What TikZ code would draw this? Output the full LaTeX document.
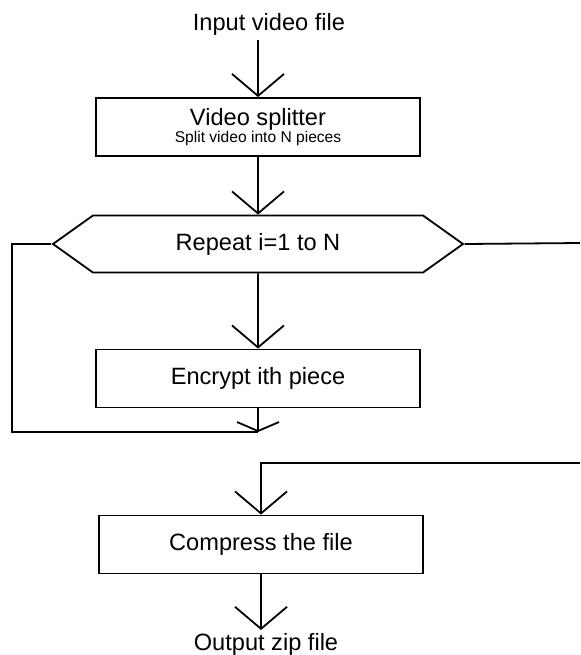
\documentclass[tikz,border=0pt]{standalone}
\usepackage{fontspec}
\setmainfont{Liberation Sans}
\usetikzlibrary{arrows.meta,shapes.symbols}
\begin{document}
\begin{tikzpicture}[x=0.5pt,y=-0.5pt,line width=0.9pt,
  box/.style={draw,rectangle,minimum width=162pt,minimum height=29pt,
    align=center,font=\fontsize{11.8}{13}\selectfont},
  loopbox/.style={draw,signal,signal to=west and east,signal pointer angle=71,
    minimum width=205pt,minimum height=28.5pt,font=\fontsize{11.8}{13}\selectfont},
  txt/.style={font=\fontsize{11.8}{13}\selectfont},
  arr/.style={-{Straight Barb[length=11pt,width=26pt]}},
  smallarr/.style={-{Straight Barb[length=4.5pt,width=21pt]}}]
\useasboundingbox (0,0) rectangle (580,655);
% nodes
\node[box] (split) at (258,127) {};
\node at (258,129) {\fontsize{11.8}{13}\selectfont\begin{tabular}{@{}c@{}}Video splitter\\[-4.5pt]{\fontsize{7.8}{9}\selectfont Split video into N pieces}\end{tabular}};
\node[txt] (in) at (269,24) {Input video file};
\node[loopbox] (loop) at (258,244) {Repeat i=1 to N};
\node[box] (enc) at (258,378.5) {Encrypt ith piece};
\node[box] (comp) at (261,544.5) {Compress the file};
\node[txt] (out) at (266,644) {Output zip file};
\coordinate (back) at (12,432);
\coordinate (join) at (258,432);
\coordinate (exit) at (580,243);
\coordinate (entry) at (580,463);
% connectors
\draw[arr] (split.north |- 0,40) -- (split.north);
\draw[arr] (split) -- (loop);
\draw[arr] (loop) -- (enc);
\draw (loop.west) -| (back) -- (join);
\draw[smallarr] (enc) -- (join);
\draw (loop.east) -- (exit);
\draw[arr] (entry) -| (comp.north);
\draw[arr] (comp.south) -- (comp.south |- 0,630);
\end{tikzpicture}
\end{document}
